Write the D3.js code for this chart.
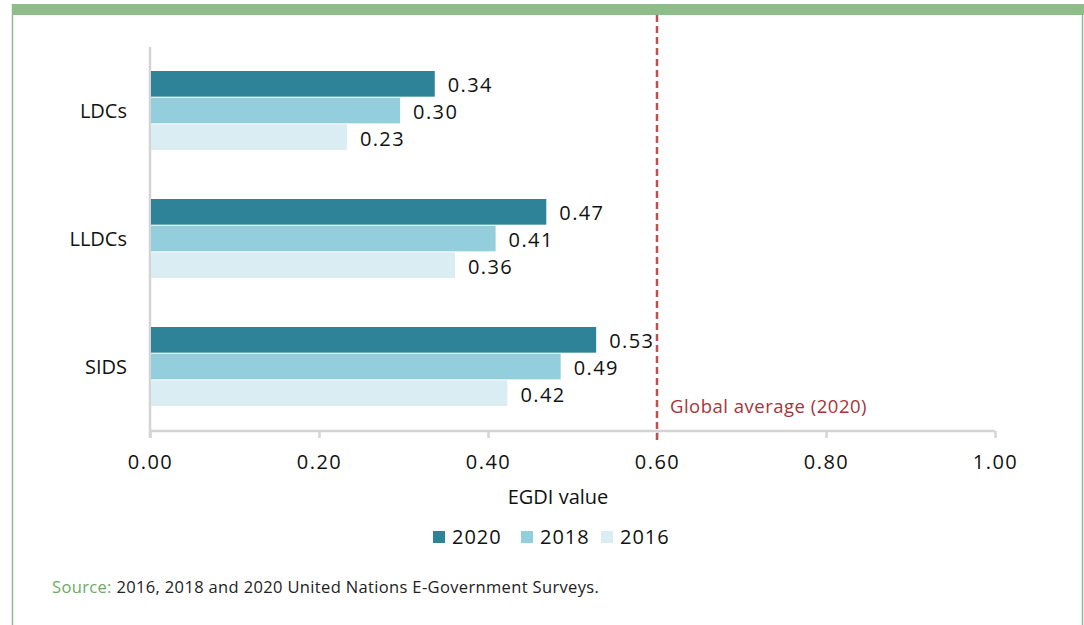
<!DOCTYPE html>
<html><head><meta charset="utf-8">
<script src="https://cdn.jsdelivr.net/npm/d3@7"></script>
<style>body{margin:0;background:#fff;}svg{display:block;font-family:"Open Sans","Noto Sans",sans-serif;}</style>
</head><body>
<svg id="c" width="1084" height="625"></svg>
<script>
const categories = ["LDCs", "LLDCs", "SIDS"];
const years = ["2020", "2018", "2016"];
const values2020 = [0.337, 0.469, 0.528];
const values2018 = [0.296, 0.409, 0.486];
const values2016 = [0.233, 0.361, 0.423];
const xTicks = [0, 0.2, 0.4, 0.6, 0.8, 1.0];
const globalAverage = 0.6;
const colors = ["#2e8399", "#92cedc", "#daedf3"];

const series = [values2020, values2018, values2016];
const svg = d3.select("#c");

// frame
svg.append("rect").attr("x", 12).attr("y", 4).attr("width", 1072).attr("height", 11).attr("fill", "#8fbd8a");
svg.append("line").attr("x1", 12.5).attr("x2", 12.5).attr("y1", 4).attr("y2", 625).attr("stroke", "#8fbd8a").attr("stroke-width", 1.5);
svg.append("line").attr("x1", 1082.5).attr("x2", 1082.5).attr("y1", 4).attr("y2", 625).attr("stroke", "#8fbd8a").attr("stroke-width", 1.5);

const x = d3.scaleLinear().domain([0, 1]).range([150, 995]);
const y = d3.scaleBand().domain(categories).range([47, 431]).paddingInner(0.375).paddingOuter(0.1875);
const ySub = d3.scaleBand().domain(years).range([0, y.bandwidth()]);

// axis lines
const axisColor = "#d4d4d4";
svg.append("line").attr("x1", 150).attr("x2", 150).attr("y1", 47).attr("y2", 438).attr("stroke", axisColor).attr("stroke-width", 2.5);
const xAxis = d3.axisBottom(x).tickValues(xTicks).tickFormat(d3.format(".2f")).tickSize(7).tickPadding(17);
const gx = svg.append("g").attr("transform", "translate(0,431)").call(xAxis);
gx.select(".domain").attr("stroke", axisColor).attr("stroke-width", 2.5).attr("d", "M150,0H995");
gx.selectAll(".tick line").attr("stroke", axisColor).attr("stroke-width", 2.5);
gx.selectAll(".tick text").attr("font-size", 20).attr("letter-spacing", 1.5).attr("fill", "#111").attr("font-family", '"Open Sans","Noto Sans",sans-serif');

// y labels
svg.append("g").selectAll("text").data(categories).join("text")
  .attr("x", 127).attr("y", d => y(d) + y.bandwidth() / 2)
  .attr("text-anchor", "end").attr("dy", "0.35em")
  .attr("font-size", 20).attr("fill", "#111").text(d => d);

// bars
series.forEach((vals, si) => {
  const g = svg.append("g");
  g.selectAll("rect").data(vals).join("rect")
    .attr("x", x(0) + 1)
    .attr("y", (d, i) => y(categories[i]) + ySub(years[si]))
    .attr("width", d => x(d) - x(0) - 1)
    .attr("height", ySub.bandwidth() - 1)
    .attr("fill", colors[si]);
  g.selectAll("text").data(vals).join("text")
    .attr("x", d => x(d) + 13)
    .attr("y", (d, i) => y(categories[i]) + ySub(years[si]) + ySub.bandwidth() / 2 + 1)
    .attr("dy", "0.35em").attr("font-size", 20).attr("letter-spacing", 1.4).attr("fill", "#111")
    .text(d => d3.format(".2f")(d));
});

// global average line
svg.append("line").attr("x1", x(globalAverage)).attr("x2", x(globalAverage)).attr("y1", 15).attr("y2", 440)
  .attr("stroke", "#c0504d").attr("stroke-width", 2.5).attr("stroke-dasharray", "7,4");
svg.append("text").attr("x", x(globalAverage) + 13).attr("y", 413)
  .attr("font-size", 18.5).attr("letter-spacing", 0.5).attr("fill", "#a7343a").text("Global average (2020)");

// axis title
svg.append("text").attr("x", 558).attr("y", 504).attr("text-anchor", "middle")
  .attr("font-size", 20).attr("fill", "#111").text("EGDI value");

// legend
const legendX = [433, 521, 601];
const lg = svg.append("g");
years.forEach((yr, i) => {
  lg.append("rect").attr("x", legendX[i]).attr("y", 531).attr("width", 12).attr("height", 12).attr("fill", colors[i]);
  lg.append("text").attr("x", legendX[i] + 19).attr("y", 537).attr("dy", "0.35em")
    .attr("font-size", 20).attr("letter-spacing", 1).attr("fill", "#111").text(yr);
});

// source
const src = svg.append("text").attr("x", 52).attr("y", 593).attr("font-size", 16.5).attr("letter-spacing", 0.35);
src.append("tspan").attr("fill", "#6aab62").text("Source: ");
src.append("tspan").attr("fill", "#222").text("2016, 2018 and 2020 United Nations E-Government Surveys.");
</script>
</body></html>
